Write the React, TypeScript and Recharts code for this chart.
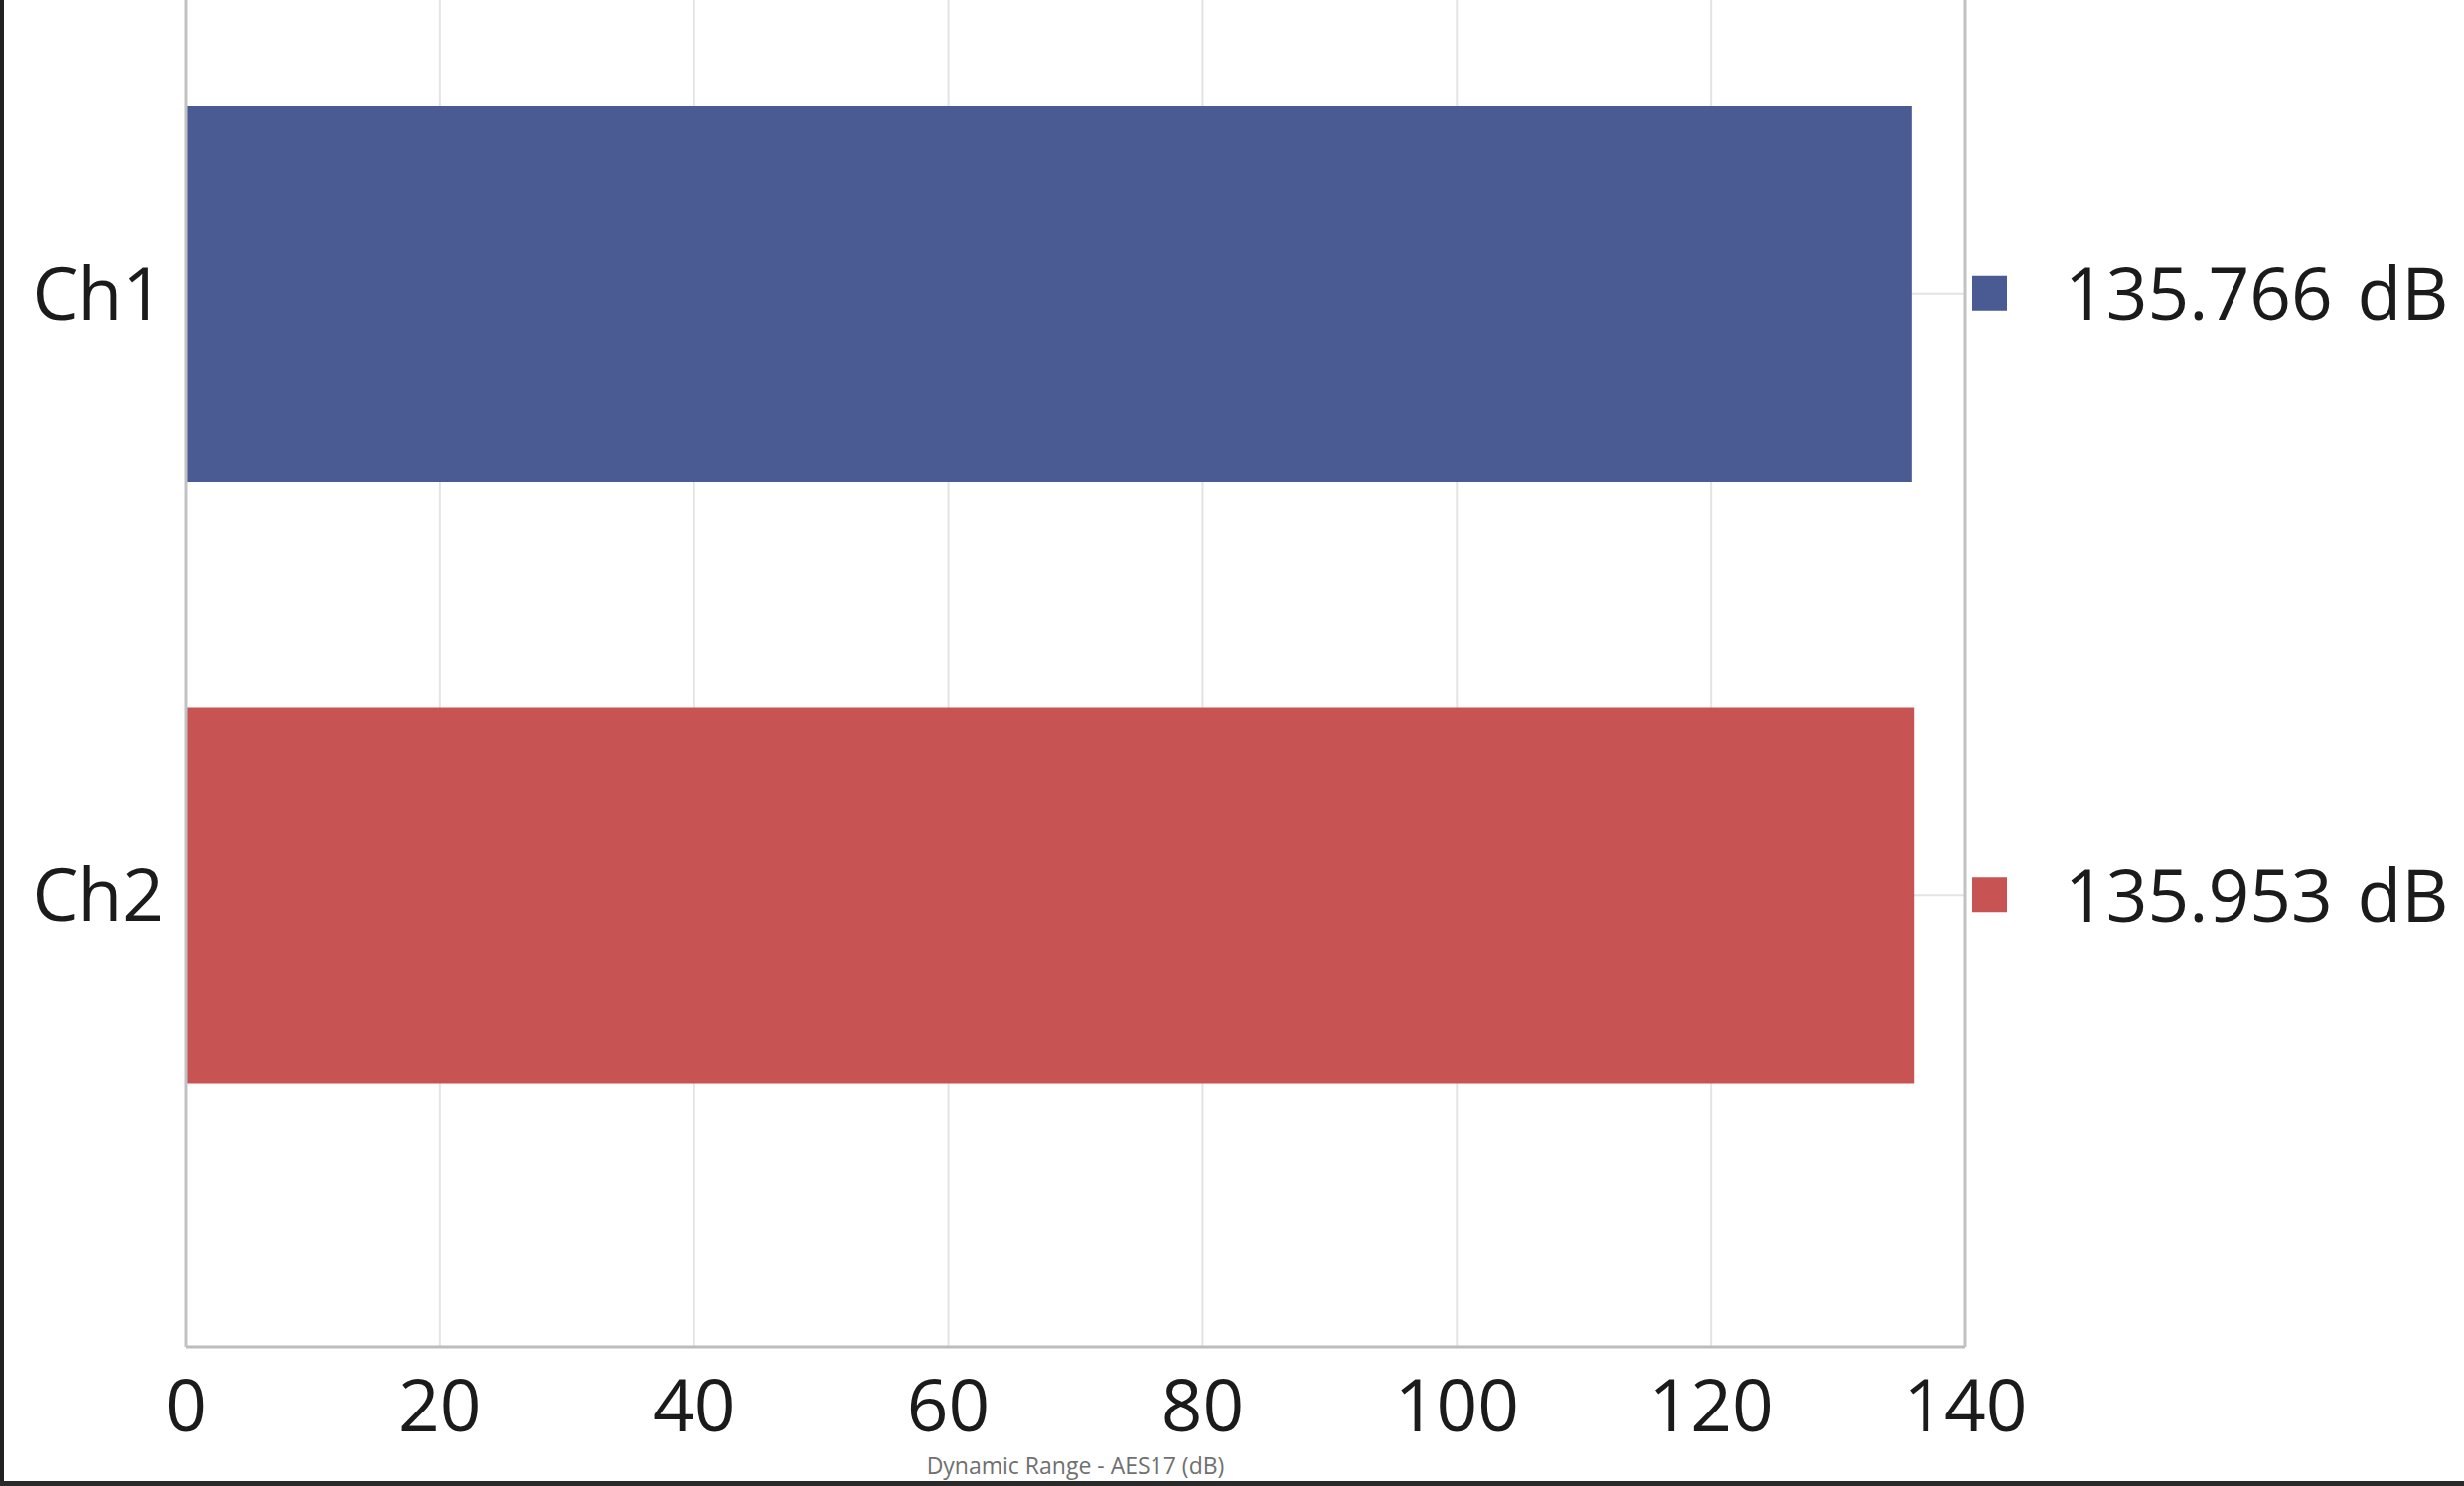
import React from "react";
import { Bar, BarChart, CartesianGrid, Cell, XAxis, YAxis } from "recharts";

const categories = ["Ch1", "Ch2"];
const dynamicRange = [135.766, 135.953];
const barColors = ["#4a5b93", "#c75352"];
const majorTicks = [0, 20, 40, 60, 80, 100, 120, 140];
const minorTicks = [10, 30, 50, 70, 90, 110, 130];
const axisTitle = "Dynamic Range - AES17 (dB)";

const data = categories.map((name, i) => ({ name, value: dynamicRange[i] }));

const FONT = "'Open Sans', 'Noto Sans', sans-serif";
const INK = "#1b1b1b";
const FRAME = "#c2c2c2";

// value + coloured square shown to the right of the plot
function LegendTick(props: any) {
  const { x, y, index } = props;
  const v = dynamicRange[index];
  return (
    <g>
      <rect x={x + 7} y={y - 18} width={35} height={35} fill={barColors[index]} />
      <text
        x={x + 100}
        y={y}
        dy="0.36em"
        fontFamily={FONT}
        fontSize={73}
        fill={INK}
        textAnchor="start"
        wordSpacing={6}
      >
        {`${v.toFixed(3)} dB`}
      </text>
    </g>
  );
}

export default function App() {
  return (
    <div
      style={{
        position: "absolute",
        top: 0,
        left: 0,
        width: 2480,
        height: 1496,
        background: "#fff",
        overflow: "hidden",
      }}
    >
      <BarChart
        width={2480}
        height={1496}
        data={data}
        layout="vertical"
        margin={{ top: -7, right: 0, bottom: 0, left: 0 }}
      >
        <CartesianGrid
          xAxisId="minor"
          yAxisId="left"
          horizontal={false}
          stroke="#f0f0f0"
          strokeWidth={2}
        />
        <CartesianGrid
          xAxisId="main"
          yAxisId="left"
          stroke="#e3e3e3"
          strokeWidth={2}
        />
        <XAxis
          xAxisId="minor"
          type="number"
          domain={[0, 140]}
          ticks={minorTicks}
          hide
        />
        <XAxis
          xAxisId="main"
          type="number"
          domain={[0, 140]}
          ticks={majorTicks}
          interval={0}
          height={140}
          tickLine={false}
          tickSize={0}
          tickMargin={33}
          axisLine={{ stroke: "#bcbcbc", strokeWidth: 3 }}
          tick={{ fontFamily: FONT, fontSize: 73, fill: INK }}
          label={{
            value: axisTitle,
            position: "insideBottom",
            offset: 12,
            fontFamily: FONT,
            fontSize: 23,
            fill: "#707070",
          }}
        />
        <YAxis
          yAxisId="left"
          type="category"
          dataKey="name"
          width={187}
          padding={{ top: 0, bottom: 152 }}
          tickLine={false}
          tickSize={0}
          tickMargin={22}
          axisLine={{ stroke: FRAME, strokeWidth: 3 }}
          tick={{ fontFamily: FONT, fontSize: 73, fill: INK }}
        />
        <YAxis
          yAxisId="right"
          orientation="right"
          type="category"
          dataKey="name"
          width={502}
          padding={{ top: 0, bottom: 152 }}
          tickLine={false}
          tickSize={0}
          tickMargin={0}
          axisLine={{ stroke: FRAME, strokeWidth: 3 }}
          tick={<LegendTick />}
        />
        <Bar
          dataKey="value"
          xAxisId="main"
          yAxisId="left"
          barSize={378}
          isAnimationActive={false}
        >
          {data.map((d, i) => (
            <Cell key={d.name} fill={barColors[i]} />
          ))}
        </Bar>
      </BarChart>
      {/* dark screen frame on the left and bottom edges */}
      <div style={{ position: "absolute", left: 0, top: 0, width: 4, height: 1496, background: "#222" }} />
      <div style={{ position: "absolute", left: 0, bottom: 0, width: 2480, height: 5, background: "#2a2a2a" }} />
    </div>
  );
}
